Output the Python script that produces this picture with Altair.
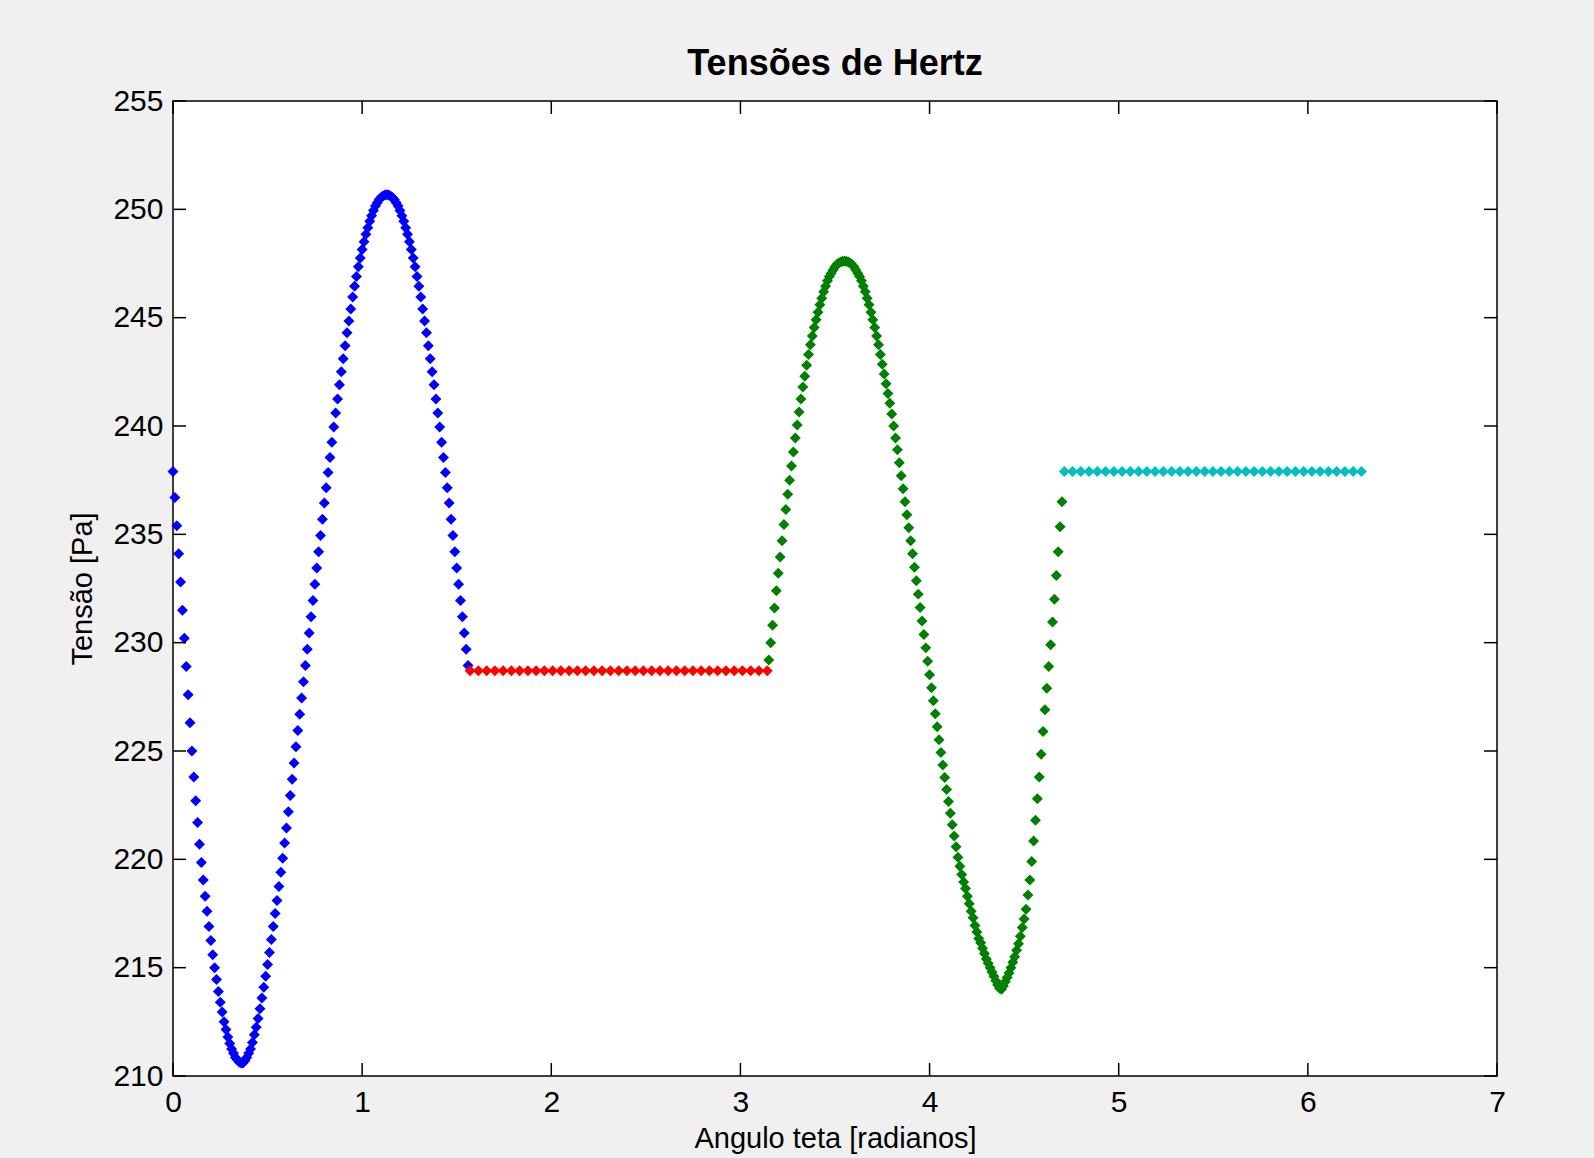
import math
import altair as alt
import pandas as pd

# ---------------- data ----------------
TITLE = "Tensões de Hertz"
X_TITLE = "Angulo teta [radianos]"
Y_TITLE = "Tensão [Pa]"
X_TICKS = [0, 1, 2, 3, 4, 5, 6, 7]
Y_TICKS = [210, 215, 220, 225, 230, 235, 240, 245, 250, 255]

SEGMENTS = ["blue", "red", "green", "cyan"]
SEGMENT_COLORS = ["#0000ff", "#ff0000", "#008000", "#00bfbf"]

# blue: theta sampled from 0.00 every 0.01 rad
BLUE_START, BLUE_STEP = 0.0, 0.01
BLUE_Y = [
    237.9, 236.7, 235.4, 234.1, 232.8, 231.5, 230.2, 228.9, 227.6, 226.3,
    225.0, 223.8, 222.7, 221.7, 220.7, 219.85, 219.05, 218.3, 217.6, 216.9,
    216.25, 215.6, 215.0, 214.45, 213.9, 213.4, 212.95, 212.5, 212.15, 211.8,
    211.5, 211.25, 211.05, 210.85, 210.75, 210.65, 210.6, 210.6, 210.7, 210.85,
    211.05, 211.25, 211.55, 211.9, 212.25, 212.65, 213.1, 213.6, 214.1, 214.6,
    215.15, 215.7, 216.3, 216.9, 217.5, 218.1, 218.75, 219.4, 220.05, 220.75,
    221.45, 222.2, 222.95, 223.7, 224.45, 225.2, 225.95, 226.7, 227.45, 228.2,
    228.95, 229.7, 230.45, 231.2, 231.95, 232.7, 233.45, 234.2, 234.95, 235.7,
    236.45, 237.15, 237.85, 238.55, 239.25, 239.95, 240.6, 241.25, 241.9, 242.5,
    243.1, 243.7, 244.3, 244.85, 245.4, 245.95, 246.45, 246.9, 247.35, 247.75,
    248.15, 248.5, 248.85, 249.15, 249.45, 249.7, 249.95, 250.15, 250.3, 250.45,
    250.55, 250.62, 250.66, 250.67, 250.66, 250.62, 250.55, 250.45, 250.3, 250.15,
    249.95, 249.7, 249.45, 249.15, 248.85, 248.5, 248.15, 247.75, 247.35, 246.9,
    246.45, 245.95, 245.4, 244.85, 244.3, 243.7, 243.1, 242.5, 241.9, 241.25,
    240.6, 239.95, 239.25, 238.55, 237.85, 237.15, 236.45, 235.7, 234.95, 234.2,
    233.45, 232.7, 231.95, 231.2, 230.45, 229.7, 228.95,
]

# red: flat stretch from pi/2 to pi, one marker every pi/72
RED_START, RED_STEP = math.pi / 2, math.pi / 72
RED_Y = [228.7] * 37

# green: theta sampled from 3.15 every 0.01 rad
GREEN_START, GREEN_STEP = 3.15, 0.01
GREEN_Y = [
    229.2, 230.0, 230.8, 231.6, 232.4, 233.2, 233.95, 234.7, 235.45, 236.15,
    236.85, 237.5, 238.15, 238.8, 239.45, 240.05, 240.65, 241.25, 241.8, 242.3,
    242.8, 243.3, 243.75, 244.15, 244.55, 244.9, 245.25, 245.6, 245.9, 246.2,
    246.45, 246.7, 246.9, 247.05, 247.2, 247.35, 247.45, 247.52, 247.57, 247.6,
    247.6, 247.6, 247.57, 247.52, 247.45, 247.35, 247.2, 247.05, 246.9, 246.7,
    246.45, 246.2, 245.9, 245.6, 245.25, 244.9, 244.55, 244.15, 243.75, 243.3,
    242.85, 242.4, 241.95, 241.5, 241.05, 240.55, 240.0, 239.45, 238.9, 238.3,
    237.7, 237.1, 236.5, 235.9, 235.3, 234.7, 234.1, 233.48, 232.86, 232.24,
    231.62, 231.0, 230.38, 229.76, 229.14, 228.52, 227.92, 227.32, 226.72, 226.12,
    225.52, 224.93, 224.35, 223.78, 223.22, 222.67, 222.13, 221.6, 221.08, 220.58,
    220.1, 219.68, 219.3, 218.95, 218.65, 218.3, 217.95, 217.6, 217.3, 216.95,
    216.65, 216.35, 216.15, 215.9, 215.65, 215.4, 215.2, 215.0, 214.8, 214.6,
    214.4, 214.2, 214.05, 214.0, 214.15, 214.35, 214.55, 214.75, 215.0, 215.25,
    215.5, 215.8, 216.1, 216.45, 216.85, 217.25, 217.7, 218.35, 219.05, 219.9,
    220.85, 221.8, 222.8, 223.8, 224.85, 225.9, 226.9, 227.9, 228.9, 229.9,
    230.95, 232.0, 233.1, 234.2, 235.35, 236.5,
]

# cyan: flat stretch from 3*pi/2 to 2*pi, one marker every pi/72
CYAN_START, CYAN_STEP = 3 * math.pi / 2, math.pi / 72
CYAN_Y = [237.9] * 37

# ---------------- build table ----------------
rows = []
for name, start, step, ys in [
    ("blue", BLUE_START, BLUE_STEP, BLUE_Y),
    ("red", RED_START, RED_STEP, RED_Y),
    ("green", GREEN_START, GREEN_STEP, GREEN_Y),
    ("cyan", CYAN_START, CYAN_STEP, CYAN_Y),
]:
    for i, y in enumerate(ys):
        rows.append({"theta": start + i * step, "sigma": y, "seg": name})
df = pd.DataFrame(rows)

W, H = 1324, 975
TICK = 13
FONT = "Liberation Sans"

xs = alt.Scale(domain=[0, 7], nice=False, zero=False)
ys_ = alt.Scale(domain=[210, 255], nice=False, zero=False)

X_AXIS = alt.Axis(
    values=X_TICKS, format="d", title=X_TITLE, grid=False, ticks=False,
    tickSize=0, domain=False, labelFont=FONT, labelFontSize=30,
    labelColor="black", labelPadding=11, titleFont=FONT,
    titleFontSize=29, titleFontWeight="normal", titleColor="black",
    titlePadding=7, labelFlush=False,
)
Y_AXIS = alt.Axis(
    values=Y_TICKS, format="d", title=Y_TITLE, grid=False, ticks=False,
    tickSize=0, domain=False, labelFont=FONT, labelFontSize=30,
    labelColor="black", labelPadding=10, titleFont=FONT,
    titleFontSize=29, titleFontWeight="normal", titleColor="black",
    titlePadding=15, labelFlush=False,
)

points = alt.Chart(df).mark_point(
    shape="diamond", filled=True, size=120, opacity=1, strokeWidth=0
).encode(
    x=alt.X("theta:Q", scale=xs, axis=X_AXIS),
    y=alt.Y("sigma:Q", scale=ys_, axis=Y_AXIS),
    color=alt.Color("seg:N", scale=alt.Scale(domain=SEGMENTS, range=SEGMENT_COLORS), legend=None),
)

xt = pd.DataFrame({"t": X_TICKS})
yt = pd.DataFrame({"t": Y_TICKS})
rule_style = dict(color="black", strokeWidth=1.5)

bottom_ticks = alt.Chart(xt).mark_rule(**rule_style).encode(
    x=alt.X("t:Q", scale=xs, axis=X_AXIS), y=alt.value(H), y2=alt.value(H - TICK))
top_ticks = alt.Chart(xt).mark_rule(**rule_style).encode(
    x=alt.X("t:Q", scale=xs, axis=X_AXIS), y=alt.value(0), y2=alt.value(TICK))
left_ticks = alt.Chart(yt).mark_rule(**rule_style).encode(
    y=alt.Y("t:Q", scale=ys_, axis=Y_AXIS), x=alt.value(0), x2=alt.value(TICK))
right_ticks = alt.Chart(yt).mark_rule(**rule_style).encode(
    y=alt.Y("t:Q", scale=ys_, axis=Y_AXIS), x=alt.value(W), x2=alt.value(W - TICK))

chart = alt.layer(points, bottom_ticks, top_ticks, left_ticks, right_ticks).properties(
    width=W, height=H,
    autosize=alt.AutoSizeParams(type="none"),
    padding={"left": 173, "top": 101, "right": 97, "bottom": 82},
    title=alt.TitleParams(
        TITLE, font=FONT, fontSize=36, fontWeight="bold", color="black",
        anchor="middle", baseline="alphabetic", offset=-25,
    ),
    background="#f0f0f0",
).configure_view(stroke="black", strokeWidth=1.5, fill="white")

chart.save("out.html", embed_options={"renderer": "svg", "actions": False})
